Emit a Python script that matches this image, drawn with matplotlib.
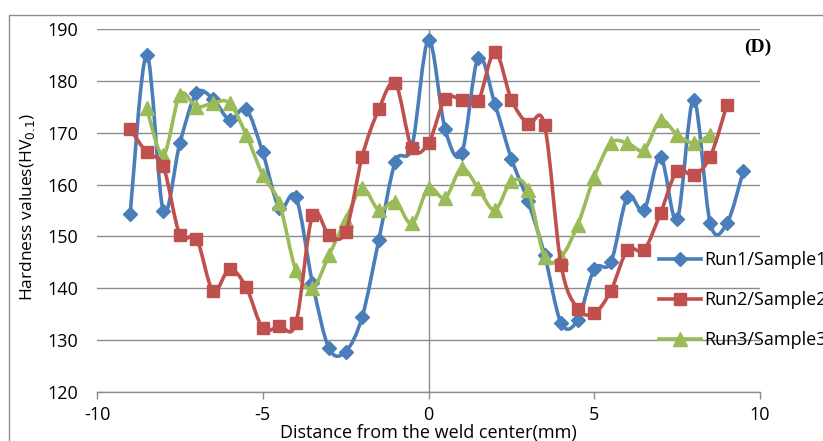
import numpy as np
import matplotlib
matplotlib.use('Agg')
import matplotlib.pyplot as plt
from matplotlib.path import Path
from matplotlib.patches import PathPatch, Rectangle
from matplotlib.lines import Line2D

plt.rcParams['font.family'] = ['Open Sans', 'DejaVu Sans']

# ── Data ──────────────────────────────────────────────────────────────────────
x_run1 = [-9, -8.5, -8, -7.5, -7, -6.5, -6, -5.5, -5, -4.5, -4, -3.5, -3, -2.5,
          -2, -1.5, -1, -0.5, 0, 0.5, 1, 1.5, 2, 2.5, 3, 3.5, 4, 4.5, 5, 5.5,
          6, 6.5, 7, 7.5, 8, 8.5, 9, 9.5]
hv_run1 = [154.3, 185.0, 155.0, 168.0, 177.6, 176.5, 172.5, 174.5, 166.2, 155.5,
           157.6, 141.0, 128.4, 127.8, 134.5, 149.3, 164.4, 167.3, 187.9, 170.7,
           166.0, 184.5, 175.6, 165.0, 156.8, 146.5, 133.3, 133.9, 143.7, 145.0,
           157.6, 155.1, 165.3, 153.3, 176.4, 152.5, 152.5, 162.7]

x_run2 = [-9, -8.5, -8, -7.5, -7, -6.5, -6, -5.5, -5, -4.5, -4, -3.5, -3, -2.5,
          -2, -1.5, -1, -0.5, 0, 0.5, 1, 1.5, 2, 2.5, 3, 3.5, 4, 4.5, 5, 5.5,
          6, 6.5, 7, 7.5, 8, 8.5, 9]
hv_run2 = [170.7, 166.2, 163.5, 150.3, 149.6, 139.5, 143.7, 140.2, 132.3, 132.7,
           133.3, 154.1, 150.3, 150.9, 165.4, 174.5, 179.5, 167.0, 168.0, 176.5,
           176.4, 176.2, 185.6, 176.4, 171.7, 171.5, 144.5, 136.1, 135.2, 139.5,
           147.4, 147.4, 154.5, 162.7, 161.8, 165.4, 175.3]

x_run3 = [-8.5, -8, -7.5, -7, -6.5, -6, -5.5, -5, -4.5, -4, -3.5, -3, -2.5,
          -2, -1.5, -1, -0.5, 0, 0.5, 1, 1.5, 2, 2.5, 3, 3.5, 4, 4.5, 5, 5.5,
          6, 6.5, 7, 7.5, 8, 8.5]
hv_run3 = [174.7, 165.7, 177.3, 175.0, 175.7, 175.7, 169.6, 161.8, 156.4, 143.5,
           140.0, 146.4, 153.2, 159.3, 155.1, 156.7, 152.5, 159.3, 157.4, 163.1,
           159.3, 155.1, 160.6, 159.0, 146.1, 146.1, 152.2, 161.5, 168.0, 168.0,
           166.7, 172.4, 169.6, 168.0, 169.6]

labels = ['Run1/Sample1', 'Run2/Sample2', 'Run3/Sample3']
colors = ['#4A7EBB', '#C0504D', '#9BBB59']
markers = ['D', 's', '^']
msizes = [7.5, 9, 10]
x_ticks = [-10, -5, 0, 5, 10]
y_ticks = [120, 130, 140, 150, 160, 170, 180, 190]

FS = 13
GRAY = '#8C8C8C'


def smooth_path(xs, ys):
    # Excel-style smoothed line: Catmull-Rom segments as cubic Beziers
    p = np.column_stack([xs, ys]).astype(float)
    n = len(p)
    verts = [p[0]]
    codes = [Path.MOVETO]
    for i in range(n - 1):
        p0 = p[i - 1] if i > 0 else p[i]
        p1, p2 = p[i], p[i + 1]
        p3 = p[i + 2] if i + 2 < n else p[i + 1]
        c1 = p1 + (p2 - p0) / 6.0
        c2 = p2 - (p3 - p1) / 6.0
        verts += [c1, c2, p2]
        codes += [Path.CURVE4] * 3
    return Path(verts, codes)


fig = plt.figure(figsize=(8.23, 4.41), dpi=100)
fig.patch.set_facecolor('white')
ax = fig.add_axes([97 / 823, 1 - 392 / 441, (760 - 97) / 823, (392 - 29) / 441])

# chart-area border (cut by the picture edge on right and bottom)
fig.patches.append(Rectangle((9 / 823, -0.05), 1.2, 1 - 15 / 441 + 0.05,
                             transform=fig.transFigure, fill=False,
                             ec=GRAY, lw=1.0, zorder=0))

series = [(x_run1, hv_run1), (x_run2, hv_run2), (x_run3, hv_run3)]
z_order = [4, 6, 5]
handles = []
for (xs, ys), lab, col, mk, ms, z in zip(series, labels, colors, markers, msizes, z_order):
    ax.add_patch(PathPatch(smooth_path(xs, ys), fill=False, ec=col, lw=2.6,
                           capstyle='round', joinstyle='round', zorder=z))
    ax.plot(xs, ys, ls='none', marker=mk, ms=ms, color=col, mec=col, zorder=z + 0.5)
    handles.append(Line2D([], [], color=col, lw=2.6, marker=mk, ms=ms, mec=col))

ax.set_xlim(-10, 10)
ax.set_ylim(120, 190)
ax.set_xticks(x_ticks)
ax.set_yticks(y_ticks)
ax.set_xticklabels([str(t) for t in x_ticks])
ax.set_yticklabels([str(t) for t in y_ticks])
ax.tick_params(axis='y', length=0, pad=13.5, labelsize=FS, colors='black')
ax.tick_params(axis='x', length=5, width=1, color=GRAY, direction='out',
               pad=5, labelsize=FS, labelcolor='black')

ax.grid(axis='y', color=GRAY, lw=1.0)
ax.set_axisbelow(True)
for s in ['left', 'right', 'top']:
    ax.spines[s].set_visible(False)
ax.spines['bottom'].set_color(GRAY)
ax.spines['bottom'].set_linewidth(1.0)
ax.axvline(0, color=GRAY, lw=1.0, zorder=1)

fig.text(28 / 823, 1 - 207 / 441, 'Hardness values(HV$_{0.1}$)', rotation=90,
         ha='center', va='center', fontsize=12.5)
fig.text(428 / 823, 1 - 433 / 441, 'Distance from the weld center(mm)',
         ha='center', va='center', fontsize=FS)
fig.text(758 / 823, 1 - 47 / 441, '(D)', ha='center', va='center',
         fontsize=14, fontweight='bold', family='Liberation Serif')

leg = fig.legend(handles, labels, loc='center left',
                 bbox_to_anchor=(652 / 823, 1 - 300 / 441), frameon=False,
                 fontsize=FS, handlelength=2.33, handletextpad=0.17,
                 labelspacing=1.22, borderaxespad=0)

fig.savefig('out.png', dpi=100, facecolor='white')
